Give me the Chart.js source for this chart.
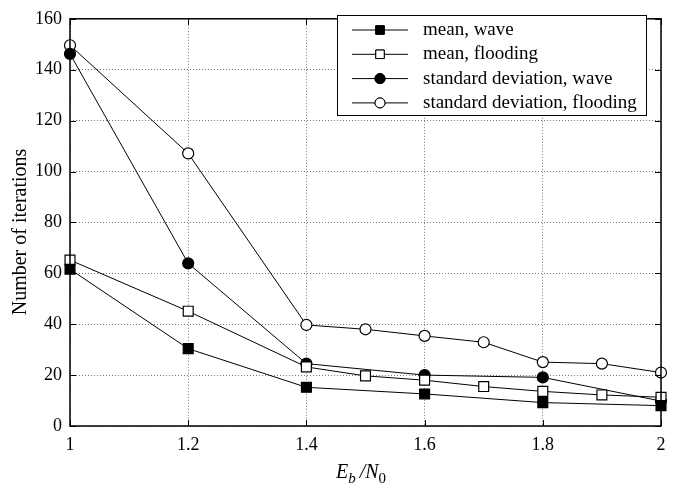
<!DOCTYPE html>
<html lang="en">
<head>
<meta charset="UTF-8">
<title>Iterations vs Eb/N0</title>
<script src="https://cdn.jsdelivr.net/npm/chart.js"></script>
<style>
  html, body { margin: 0; padding: 0; background: #fff; }
  #wrap { width: 674px; height: 493px; }
</style>
</head>
<body>
<div id="wrap"><canvas id="grafico"></canvas></div>
<script>
// Eb/N0 points (wave decoder only has the even ones)
const ebn0Flood = [1, 1.2, 1.4, 1.5, 1.6, 1.7, 1.8, 1.9, 2];
const ebn0Wave = [1, 1.2, 1.4, 1.6, 1.8, 2];

const meanWave = [61.6, 30.4, 15.2, 12.6, 9.2, 8.0];
const meanFlood = [65.2, 45.1, 23.2, 19.7, 18.0, 15.5, 13.6, 12.2, 11.3];
const stdWave = [146.2, 63.9, 24.5, 20.0, 19.1, 9.8];
const stdFlood = [149.6, 107.1, 39.7, 38.0, 35.4, 32.9, 25.1, 24.5, 21.0];

const seriesNames = ["mean, wave", "mean, flooding", "standard deviation, wave", "standard deviation, flooding"];
const yTitle = "Number of iterations";

const serif = "'Liberation Serif', 'DejaVu Serif', serif";

function pts(xs, ys) {
  return xs.map((x, i) => ({ x: x, y: ys[i] }));
}

function serie(label, xs, ys, shape, filled) {
  return {
    label: label,
    data: pts(xs, ys),
    borderColor: "#000",
    borderWidth: 1,
    pointStyle: shape,
    pointRadius: shape === "rect" ? 7 : 5.5,
    pointBorderWidth: 1.2,
    pointBorderColor: "#000",
    pointBackgroundColor: filled ? "#000" : "#fff",
    fill: false,
    clip: false,
    tension: 0
  };
}

// frame, inner ticks, legend box and axis titles
const extras = {
  id: "extras",
  afterDatasetsDraw(chart) {
    const ctx = chart.ctx;
    const a = chart.chartArea;
    const xs = chart.scales.x, ys = chart.scales.y;
    ctx.save();
    ctx.strokeStyle = "#000";
    ctx.lineWidth = 1.5;
    ctx.strokeRect(a.left, a.top, a.right - a.left, a.bottom - a.top);

    ctx.lineWidth = 1;
    xs.ticks.forEach(t => {
      const px = Math.round(xs.getPixelForValue(t.value)) + 0.5;
      ctx.beginPath();
      ctx.moveTo(px, a.bottom); ctx.lineTo(px, a.bottom - 6);
      ctx.moveTo(px, a.top); ctx.lineTo(px, a.top + 6);
      ctx.stroke();
    });
    ys.ticks.forEach(t => {
      const py = Math.round(ys.getPixelForValue(t.value)) + 0.5;
      ctx.beginPath();
      ctx.moveTo(a.left, py); ctx.lineTo(a.left + 6, py);
      ctx.moveTo(a.right, py); ctx.lineTo(a.right - 6, py);
      ctx.stroke();
    });

    // legend
    const lx = 337, ly = 15, lw = 309, lh = 100;
    ctx.fillStyle = "#fff";
    ctx.fillRect(lx, ly, lw, lh);
    ctx.strokeStyle = "#000";
    ctx.lineWidth = 1;
    ctx.strokeRect(lx + 0.5, ly + 0.5, lw, lh);
    ctx.font = "19px " + serif;
    ctx.textBaseline = "middle";
    chart.data.datasets.forEach((ds, i) => {
      const cy = ly + 15 + i * 24.3;
      ctx.beginPath();
      ctx.moveTo(lx + 15, cy); ctx.lineTo(lx + 71, cy);
      ctx.strokeStyle = "#000";
      ctx.lineWidth = 1;
      ctx.stroke();
      Chart.helpers.drawPoint(ctx, {
        pointStyle: ds.pointStyle,
        radius: ds.pointStyle === "rect" ? 6 : 5,
        borderWidth: 1.2
      }, lx + 43, cy);
      ctx.fillStyle = ds.pointBackgroundColor;
      ctx.fill();
      ctx.stroke();
      ctx.fillStyle = "#000";
      ctx.textAlign = "left";
      ctx.fillText(ds.label, lx + 86, cy);
    });

    // y title
    ctx.save();
    ctx.translate(21, 232);
    ctx.rotate(-Math.PI / 2);
    ctx.textAlign = "center";
    ctx.textBaseline = "middle";
    ctx.font = "20px " + serif;
    ctx.fillText(yTitle, 0, 0);
    ctx.restore();

    // x title: E_b /N_0
    ctx.textAlign = "left";
    ctx.textBaseline = "alphabetic";
    let x = 336, base = 478;
    ctx.font = "italic 20px " + serif;
    ctx.fillText("E", x, base); x += ctx.measureText("E").width;
    ctx.font = "italic 15px " + serif;
    ctx.fillText("b", x, base + 5); x += ctx.measureText("b").width + 4;
    ctx.font = "italic 20px " + serif;
    ctx.fillText("/N", x, base); x += ctx.measureText("/N").width;
    ctx.font = "15px " + serif;
    ctx.fillText("0", x, base + 5);
    ctx.restore();
  }
};

const chart = new Chart(document.getElementById("grafico"), {
  type: "line",
  data: {
    datasets: [
      serie(seriesNames[0], ebn0Wave, meanWave, "rect", true),
      serie(seriesNames[1], ebn0Flood, meanFlood, "rect", false),
      serie(seriesNames[2], ebn0Wave, stdWave, "circle", true),
      serie(seriesNames[3], ebn0Flood, stdFlood, "circle", false)
    ]
  },
  options: {
    responsive: true,
    maintainAspectRatio: false,
    animation: false,
    layout: { padding: { top: 12, right: 13, left: 0, bottom: 0 } },
    plugins: { legend: { display: false }, tooltip: { enabled: false } },
    scales: {
      x: {
        type: "linear",
        min: 1, max: 2,
        afterFit: s => { s.height = 67; },
        border: { display: false, dash: [1, 2] },
        grid: { color: "#777", drawTicks: false },
        ticks: {
          stepSize: 0.2,
          padding: 8,
          color: "#000",
          font: { family: serif, size: 18 },
          callback: v => String(Number(v.toFixed(1)))
        }
      },
      y: {
        min: 0, max: 160,
        afterFit: s => { s.width = 70; },
        border: { display: false, dash: [1, 2] },
        grid: { color: "#777", drawTicks: false },
        ticks: {
          stepSize: 20,
          padding: 8,
          color: "#000",
          font: { family: serif, size: 18 }
        }
      }
    }
  },
  plugins: [extras]
});
</script>
</body>
</html>
